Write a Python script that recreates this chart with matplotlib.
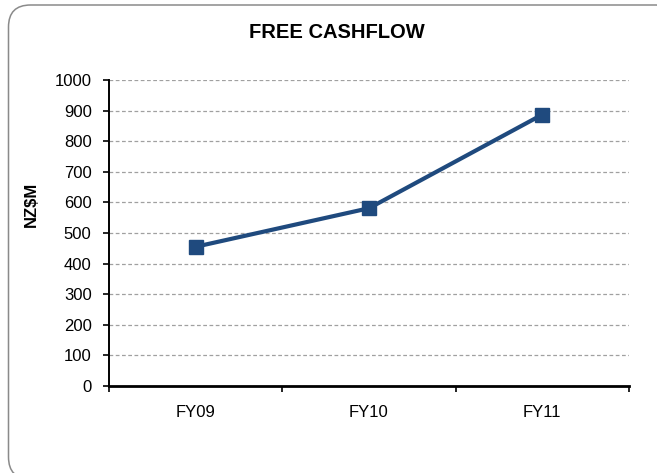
import matplotlib.pyplot as plt
from matplotlib.patches import FancyBboxPatch

years = ["FY09", "FY10", "FY11"]
cashflow = [455, 581, 887]
yticks = [0, 100, 200, 300, 400, 500, 600, 700, 800, 900, 1000]

plt.rcParams['font.family'] = ['Liberation Sans', 'DejaVu Sans']

fig = plt.figure(figsize=(6.57, 4.73), dpi=100)

# rounded frame round the chart (right and bottom run off the image), in inches
frame = FancyBboxPatch((0.085, -0.06), 6.70, 4.74,
                       boxstyle="round,pad=0,rounding_size=0.22",
                       transform=fig.dpi_scale_trans, fill=False,
                       edgecolor="#8a8a8a", linewidth=1.1)
fig.patches.append(frame)

ax = fig.add_axes([109 / 657, 1 - 386 / 473, 520 / 657, 306 / 473])
x = list(range(len(years)))
ax.plot(x, cashflow, color="#1F4A7E", linewidth=3.0, marker="s",
        markersize=10, zorder=3)

ax.set_xlim(-0.5, len(years) - 0.5)
ax.set_ylim(0, 1000)
ax.set_yticks(yticks)
ax.set_yticklabels([str(v) for v in yticks], fontsize=12)

# category boundaries get the tick marks, labels sit between them
ax.set_xticks([i - 0.5 for i in range(len(years) + 1)])
ax.set_xticklabels([])
ax.set_xticks(x, minor=True)
ax.set_xticklabels(years, minor=True, fontsize=12)
ax.tick_params(axis="x", which="major", direction="out", length=4, width=1.2)
ax.tick_params(axis="x", which="minor", length=0, pad=14)
ax.tick_params(axis="y", direction="out", length=4.5, width=1.2, pad=8)

ax.grid(axis="y", linestyle=(0, (3, 2)), color="#a0a0a0", linewidth=0.9)
ax.set_axisbelow(True)
for s in ["top", "right"]:
    ax.spines[s].set_visible(False)
ax.spines["left"].set_linewidth(1.4)
ax.spines["bottom"].set_linewidth(2.0)

fig.text(337 / 657, 1 - 33 / 473, "FREE CASHFLOW", ha="center", va="center",
         fontsize=14.5, fontweight="bold")
fig.text(31 / 657, 1 - 204 / 473, "NZ$M", ha="center", va="center",
         rotation=90, fontsize=12, fontweight="bold")

plt.savefig("out.png", dpi=100)
